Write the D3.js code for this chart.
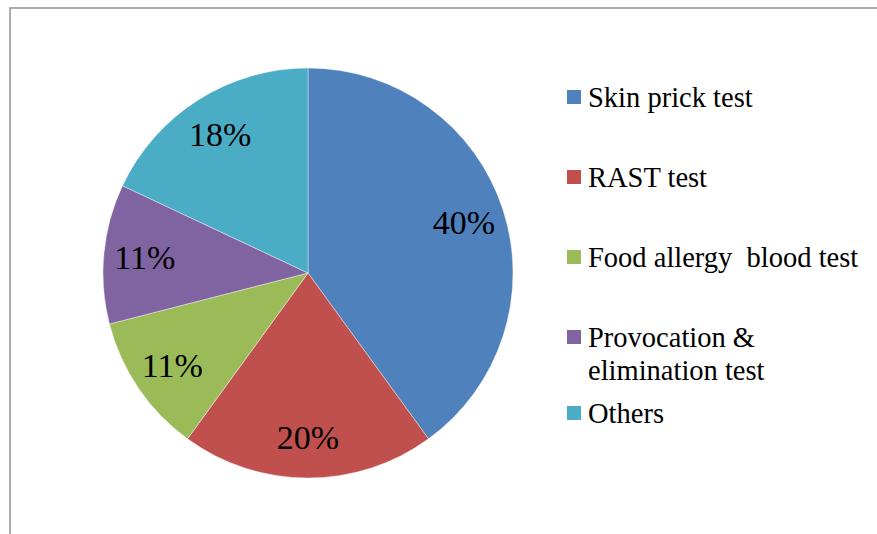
<!DOCTYPE html>
<html><head><meta charset="utf-8"><script src="https://cdn.jsdelivr.net/npm/d3@7"></script></head>
<body style="margin:0">
<svg id="s" width="877" height="534"></svg>
<script>
// Allergy test methods used (share of respondents, %)
const categories = ["Skin prick test", "RAST test", "Food allergy  blood test", "Provocation & elimination test", "Others"];
const values = [40, 20, 11, 11, 18];
const colors = ["#4F81BD", "#C0504D", "#9BBB59", "#8064A2", "#4BACC6"];
// legend entries, wrapped the way they are printed
const legendLines = [["Skin prick test"], ["RAST test"], ["Food allergy  blood test"], ["Provocation &", "elimination test"], ["Others"]];

const fontStack = '"Liberation Serif", "Times New Roman", Tinos, "Nimbus Roman", FreeSerif, "DejaVu Serif", "Noto Serif", serif';
const svg = d3.select("#s");
const W = 877, H = 534;

// chart frame
svg.append("rect")
  .attr("x", 10).attr("y", 8)
  .attr("width", W + 20).attr("height", H + 20)
  .attr("fill", "#fff")
  .attr("stroke", "#9a9a9a")
  .attr("stroke-width", 1.6);

const cx = 308, cy = 273, R = 205;
const data = categories.map((c, i) => ({ name: c, value: values[i], color: colors[i] }));

const pie = d3.pie().value(d => d.value).sort(null);
const arc = d3.arc().innerRadius(0).outerRadius(R);
const labelArc = d3.arc().innerRadius(164).outerRadius(164);

const g = svg.append("g").attr("transform", `translate(${cx},${cy})`);
const arcs = pie(data);

g.selectAll("path.slice")
  .data(arcs)
  .join("path")
  .attr("class", "slice")
  .attr("d", arc)
  .attr("fill", d => d.data.color)
  .attr("stroke", "#ffffff")
  .attr("stroke-opacity", 0.5)
  .attr("stroke-width", 0.8);

g.selectAll("text.pct")
  .data(arcs)
  .join("text")
  .attr("class", "pct")
  .attr("transform", d => `translate(${labelArc.centroid(d)})`)
  .attr("text-anchor", "middle")
  .attr("dy", "0.35em")
  .attr("font-size", 34)
  .style("font-family", fontStack)
  .text(d => d.data.value + "%");

// legend
const legendX = 567;
const baselines = [107, 187, 267, 347, 423];
const lineH = 33;
const lg = svg.append("g");
legendLines.forEach((lines, i) => {
  const y = baselines[i];
  lg.append("rect")
    .attr("x", legendX).attr("y", y - 17)
    .attr("width", 14).attr("height", 14)
    .attr("fill", colors[i]);
  const t = lg.append("text")
    .attr("x", legendX + 21).attr("y", y)
    .attr("font-size", 28.5)
    .style("font-family", fontStack)
    .style("white-space", "pre");
  lines.forEach((ln, j) => {
    t.append("tspan").attr("x", legendX + 21).attr("y", y + j * lineH).text(ln);
  });
});
</script></body></html>
